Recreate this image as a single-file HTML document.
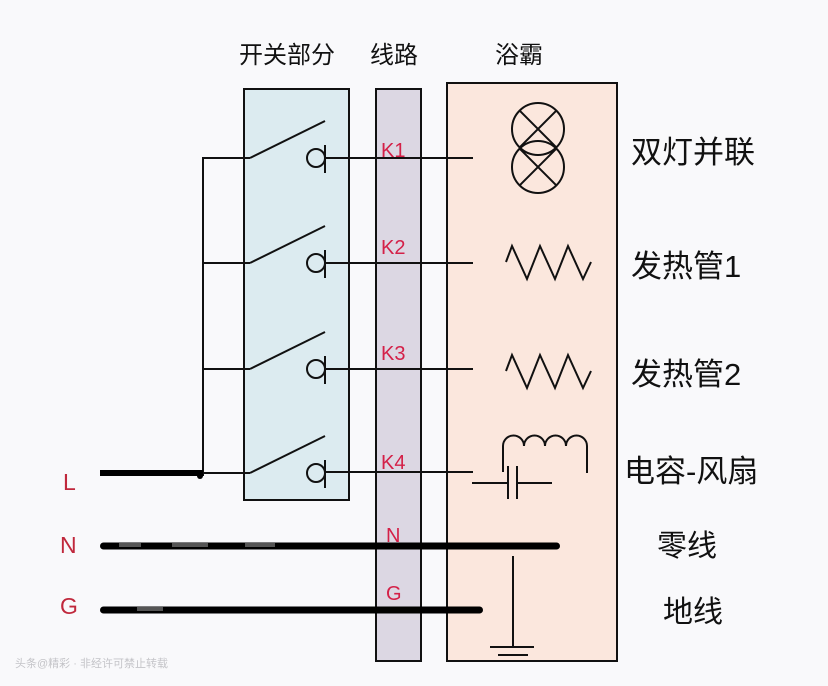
<!DOCTYPE html>
<html>
<head>
<meta charset="utf-8">
<style>
html,body{margin:0;padding:0;background:#f9f9fb;}
svg{display:block;}
.cjk{font-family:"Liberation Sans","Noto Sans CJK SC",sans-serif;fill:#111;}
.lat{font-family:"Liberation Sans",sans-serif;}
</style>
</head>
<body>
<svg width="828" height="686" viewBox="0 0 828 686" xmlns="http://www.w3.org/2000/svg">
<rect x="0" y="0" width="828" height="686" fill="#f9f9fb"/>

<!-- boxes -->
<rect x="244" y="89" width="105" height="411" fill="#dcebf0" stroke="#111" stroke-width="2"/>
<rect x="376" y="89" width="45" height="572" fill="#dcd7e3" stroke="#111" stroke-width="2"/>
<rect x="447" y="83" width="170" height="578" fill="#fbe7dd" stroke="#111" stroke-width="2"/>

<!-- headers -->
<text class="cjk" x="239" y="63" font-size="24">开关部分</text>
<text class="cjk" x="370" y="63" font-size="24">线路</text>
<text class="cjk" x="495" y="63" font-size="24">浴霸</text>

<g stroke="#111" stroke-width="2" fill="none">
  <!-- bus -->
  <line x1="203" y1="157" x2="203" y2="476"/>
  <!-- rows -->
  <g>
    <line x1="202" y1="158" x2="250" y2="158"/>
    <line x1="250" y1="158" x2="325" y2="121"/>
    <circle cx="316" cy="158" r="9"/>
    <line x1="325" y1="145" x2="325" y2="173"/>
    <line x1="325" y1="158" x2="473" y2="158"/>
  </g>
  <g>
    <line x1="202" y1="263" x2="250" y2="263"/>
    <line x1="250" y1="263" x2="325" y2="226"/>
    <circle cx="316" cy="263" r="9"/>
    <line x1="325" y1="250" x2="325" y2="278"/>
    <line x1="325" y1="263" x2="473" y2="263"/>
  </g>
  <g>
    <line x1="202" y1="369" x2="250" y2="369"/>
    <line x1="250" y1="369" x2="325" y2="332"/>
    <circle cx="316" cy="369" r="9"/>
    <line x1="325" y1="356" x2="325" y2="384"/>
    <line x1="325" y1="369" x2="473" y2="369"/>
  </g>
  <g>
    <line x1="202" y1="473" x2="250" y2="473"/>
    <line x1="250" y1="473" x2="325" y2="436"/>
    <circle cx="316" cy="473" r="9"/>
    <line x1="325" y1="460" x2="325" y2="488"/>
    <line x1="325" y1="472" x2="473" y2="472"/>
  </g>

  <!-- lamps -->
  <circle cx="538" cy="129" r="26"/>
  <circle cx="538" cy="167" r="26"/>
  <line x1="519.6" y1="110.6" x2="556.4" y2="147.4"/>
  <line x1="556.4" y1="110.6" x2="519.6" y2="147.4"/>
  <line x1="519.6" y1="148.6" x2="556.4" y2="185.4"/>
  <line x1="556.4" y1="148.6" x2="519.6" y2="185.4"/>

  <!-- heaters -->
  <polyline points="506,262 512,246 527,279 540,246 555,279 568,246 583,279 591,262"/>
  <polyline points="506,371 512,355 527,388 540,355 555,388 568,355 583,388 591,371"/>

  <!-- fan: inductor -->
  <path d="M503,472 L503,446 A10.5,10.5 0 0 1 524,446 A10.5,10.5 0 0 1 545,446 A10.5,10.5 0 0 1 566,446 A10.5,10.5 0 0 1 587,446 L587,473"/>
  <!-- capacitor -->
  <line x1="472" y1="483" x2="508" y2="483"/>
  <line x1="508" y1="466" x2="508" y2="499"/>
  <line x1="517" y1="466" x2="517" y2="499"/>
  <line x1="517" y1="483" x2="552" y2="483"/>

  <!-- ground -->
  <line x1="513" y1="556" x2="513" y2="647"/>
  <line x1="490" y1="647" x2="534" y2="647"/>
  <line x1="498" y1="655" x2="528" y2="655"/>
</g>

<!-- thick power lines -->
<line x1="100" y1="473" x2="203" y2="473" stroke="#000" stroke-width="6"/>
<circle cx="200" cy="476" r="3" fill="#000"/>
<line x1="103.5" y1="546" x2="556.5" y2="546" stroke="#000" stroke-width="7" stroke-linecap="round"/>
<line x1="103.5" y1="610" x2="479.5" y2="610" stroke="#000" stroke-width="7" stroke-linecap="round"/>
<!-- faint gray streaks -->
<rect x="119" y="543" width="22" height="4" fill="#555"/>
<rect x="172" y="543" width="36" height="4" fill="#555"/>
<rect x="245" y="543" width="30" height="4" fill="#555"/>
<rect x="137" y="607" width="26" height="4" fill="#555"/>

<!-- K labels -->
<g class="lat" font-size="20" fill="#d42048">
  <text x="381" y="157">K1</text>
  <text x="381" y="254">K2</text>
  <text x="381" y="360">K3</text>
  <text x="381" y="469">K4</text>
  <text x="386" y="542">N</text>
  <text x="386" y="600">G</text>
</g>

<!-- L N G -->
<g class="lat" font-size="23" fill="#c0283c">
  <text x="63" y="490">L</text>
  <text x="60" y="553">N</text>
  <text x="60" y="614">G</text>
</g>

<!-- right labels -->
<text class="cjk" x="631" y="163" font-size="31">双灯并联</text>
<text class="cjk" x="631" y="277" font-size="31">发热管1</text>
<text class="cjk" x="631" y="385" font-size="31">发热管2</text>
<text class="cjk" x="624" y="482" font-size="31">电容-风扇</text>
<text class="cjk" x="657" y="556" font-size="30">零线</text>
<text class="cjk" x="663" y="622" font-size="30">地线</text>

<!-- watermark -->
<text x="15" y="667" font-size="11" fill="#c4c4c8" font-family="Liberation Sans, Noto Sans CJK SC, sans-serif">头条@精彩 · 非经许可禁止转载</text>
</svg>
</body>
</html>
